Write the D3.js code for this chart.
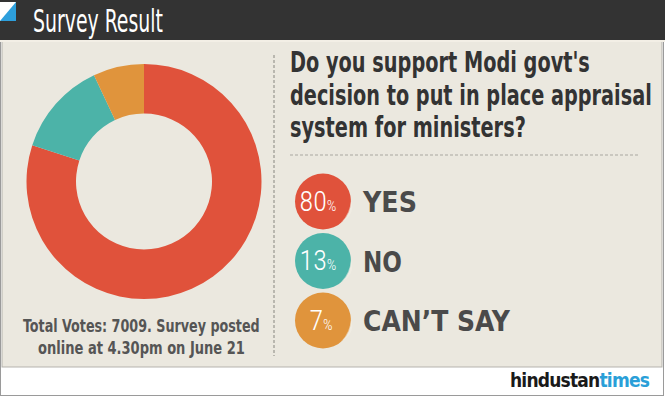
<html>
<head>
<script src="https://cdn.jsdelivr.net/npm/d3@7"></script>
<style>
  body { margin: 0; background: #fff; }
  text { font-family: "DejaVu Sans", sans-serif; font-stretch: condensed; }
</style>
</head>
<body>
<div id="chart"></div>
<script>
// survey data
var categories = ["YES", "NO", "CAN\u2019T SAY"];
var values = [80, 13, 7];
var colors = ["#e0523b", "#4cb3a8", "#e0943c"];
var questionLines = ["Do you support Modi govt's", "decision to put in place appraisal", "system for ministers?"];
var footerLines = ["Total Votes: 7009. Survey posted", "online at 4.30pm on June 21"];

var W = 665, H = 397;
var svg = d3.select("#chart").append("svg").attr("width", W).attr("height", H);

// squeeze a text horizontally to a given width (narrow font look)
function fit(g, x, y, w, anchor) {
  var t = g.select("text");
  var n = t.node().getComputedTextLength();
  var k = w / n;
  var dx = anchor === "middle" ? -w / 2 : 0;
  t.attr("text-anchor", "start");
  g.attr("transform", "translate(" + (x + dx) + "," + y + ") scale(" + k + ",1)");
}

// frame + panel
svg.append("rect").attr("x", 0.5).attr("y", 0.5).attr("width", W - 2).attr("height", H - 2)
  .attr("fill", "#fff").attr("stroke", "#9a9a9a");
svg.append("rect").attr("x", 2).attr("y", 41).attr("width", 660).attr("height", 326)
  .attr("fill", "#ebe8df").attr("stroke", "#b5b3ad");

// header bar
svg.append("rect").attr("x", 0).attr("y", 0).attr("width", W).attr("height", 40).attr("fill", "#333333");
svg.append("line").attr("x1", 0).attr("x2", W).attr("y1", 41).attr("y2", 41).attr("stroke", "#f3efe6").attr("stroke-width", 2);
svg.append("rect").attr("x", 0).attr("y", 2).attr("width", 16).attr("height", 19).attr("fill", "#fff");
svg.append("path").attr("d", "M16,2 L16,21 L0,21 Z").attr("fill", "#2d9fdc");
var tg = svg.append("g");
tg.append("text").attr("fill", "#fff").attr("font-size", 32).text("Survey Result");
fit(tg, 33, 32, 130);

// donut
var cx = 144, cy = 181.5, rOut = 117.5, rIn = 68;
var pie = d3.pie().sort(null).value(function (d) { return d; });
var arc = d3.arc().innerRadius(rIn).outerRadius(rOut);
svg.append("g").attr("transform", "translate(" + cx + "," + cy + ")")
  .selectAll("path")
  .data(pie(values))
  .enter().append("path")
    .attr("d", arc)
    .attr("fill", function (d, i) { return colors[i]; });

// footer note
var footerW = [237, 207];
footerLines.forEach(function (d, i) {
  var g = svg.append("g");
  g.append("text").attr("font-size", 17).attr("font-weight", "bold").attr("fill", "#555").text(d);
  fit(g, 141.5, 332 + i * 21.5, footerW[i], "middle");
});

// dotted separators
svg.append("line").attr("x1", 274).attr("x2", 274).attr("y1", 55).attr("y2", 356)
  .attr("stroke", "#a9a7a0").attr("stroke-width", 1.5).attr("stroke-dasharray", "3,2");
svg.append("line").attr("x1", 290).attr("x2", 640).attr("y1", 155).attr("y2", 155)
  .attr("stroke", "#a9a7a0").attr("stroke-width", 1).attr("stroke-dasharray", "3,2");

// question
var qW = [300, 362, 236];
questionLines.forEach(function (d, i) {
  var g = svg.append("g");
  g.append("text").attr("font-size", 28).attr("font-weight", "bold").attr("fill", "#333").text(d);
  fit(g, 290, 72 + i * 32.5, qW[i]);
});

// legend stickers
var labelW = [54, 39, 147];
var leg = svg.selectAll(".leg")
  .data(categories)
  .enter().append("g")
    .attr("transform", function (d, i) { return "translate(323," + (201.5 + i * 59.5) + ")"; });
leg.append("circle").attr("r", 28).attr("fill", function (d, i) { return colors[i]; });
leg.append("path")
  .attr("d", "M18,21 Q27,12 28,-2 Q33,14 18,21 Z")
  .attr("fill", "#f2efe6").attr("opacity", 0.55);
var pct = leg.append("text")
  .attr("x", function (d, i) { return values[i] < 10 ? -2 : -5; })
  .attr("y", 9)
  .attr("text-anchor", "middle")
  .attr("fill", "#fff")
  .style("font-family", "Roboto, sans-serif")
  .attr("font-weight", 300)
  .attr("font-size", 28);
pct.append("tspan").text(function (d, i) { return values[i]; });
pct.append("tspan").attr("font-size", 15).text("%");
leg.each(function (d, i) {
  var g = d3.select(this).append("g");
  g.append("text").attr("font-size", 29).attr("font-weight", "bold").attr("fill", "#4a4a4a").text(d);
  fit(g, 40, 10.5, labelW[i]);
});

// logo
var logo = svg.append("text").attr("x", 510).attr("y", 387)
  .attr("font-size", 19).attr("font-weight", "bold").attr("letter-spacing", -0.8);
logo.append("tspan").attr("fill", "#1a1a1a").text("hindustan");
logo.append("tspan").attr("fill", "#2a9fd8").text("times");
</script>
</body>
</html>
